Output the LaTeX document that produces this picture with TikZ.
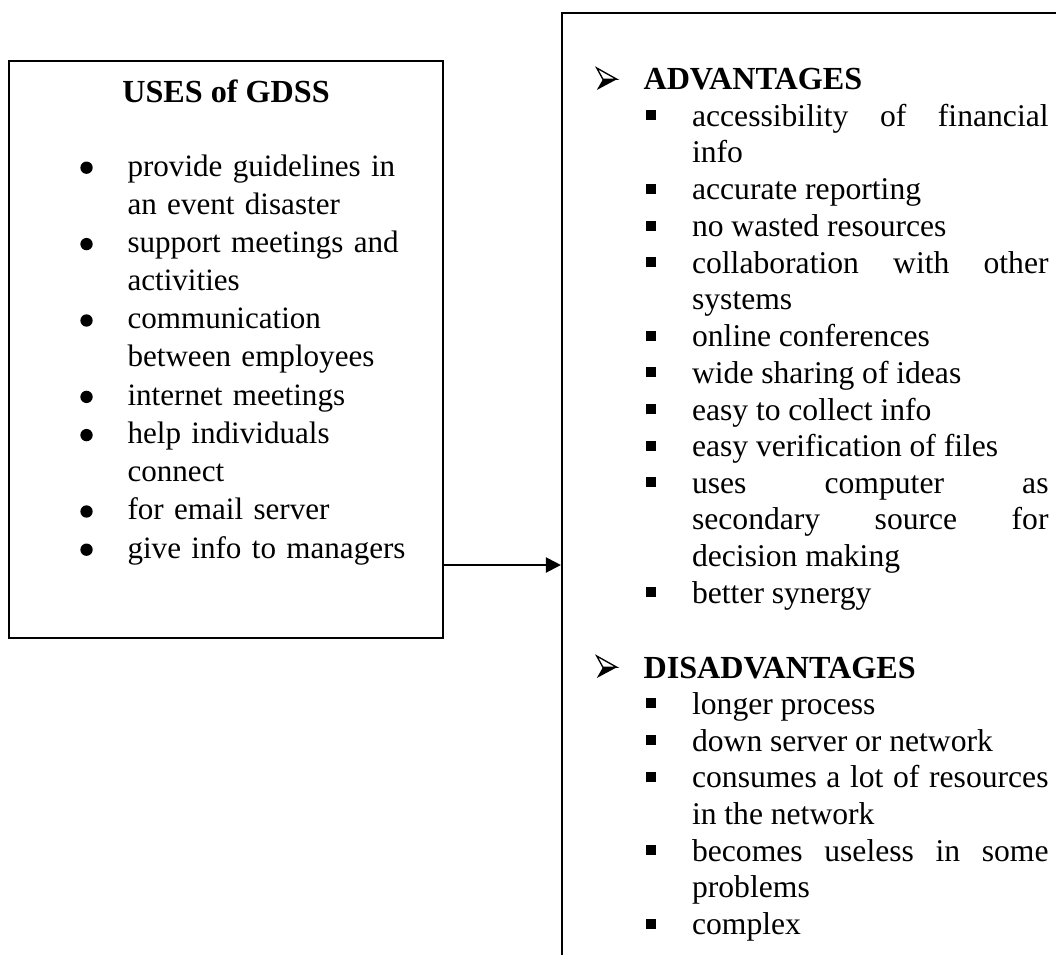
\documentclass[tikz,border=0pt]{standalone}
\usepackage{fontspec}
\setmainfont{Liberation Serif}
\usetikzlibrary{positioning}
\usetikzlibrary{fit}
\usetikzlibrary{arrows.meta}

\hyphenpenalty=10000
\exhyphenpenalty=10000
\tolerance=10000

% list markers, hung to the left of the item text
\newcommand{\dotmark}{\llap{\tikz[baseline=-3.1pt]\fill (0,0) circle (2.3pt);\hspace{13pt}}}
\newcommand{\sqmark}{\llap{\rule[2.2pt]{3.7pt}{3.7pt}\hspace{13.4pt}}}
\newcommand{\headmark}{\llap{\tikz[baseline=0pt,line width=0.5pt,line join=miter]{
		\draw (0,8.2pt) -- (7.5pt,4pt) -- (2.3pt,4pt) -- cycle;
		\fill (0,0) -- (7.5pt,4pt) -- (2.3pt,4pt) -- cycle;}\hspace{9.7pt}}}
\newcommand{\loosewords}{\spaceskip=2.9pt plus 30pt minus 1pt\relax}

\begin{document}
\begin{tikzpicture}
		[x=0.3731pt, y=-0.3731pt, line width=0.8pt,
		box/.style={draw, rectangle, inner sep=0pt},
		headtext/.style={inner sep=0pt, font=\fontsize{12}{14}\selectfont\bfseries},
		uselist/.style={anchor=base west, inner sep=0pt, text width=115pt, align=left,
			font=\fontsize{11.6}{14.25}\selectfont},
		prolist/.style={anchor=base west, inner sep=0pt, text width=133pt, align=justify,
			font=\fontsize{11.8}{13.7}\selectfont\loosewords},
		flow/.style={-{Triangle[length=5.6pt,width=5.6pt]}}]
	\useasboundingbox (0,0) rectangle (1056,954);
	\clip (0,0) rectangle (1056,954);

	% left box
	\node (uses) [box, fit={(9,61) (443,638)}] {};
	\node (usetitle) [headtext, anchor=base] at (226,102) {USES of GDSS};
	\node (u1) [uselist] at (127,176) {\dotmark provide guidelines in\\an event disaster};
	\node (u2) [uselist] at (127,252.4) {\dotmark support meetings and\\activities};
	\node (u3) [uselist] at (127,328.8) {\dotmark communication\\between employees};
	\node (u4) [uselist] at (127,405.2) {\dotmark internet meetings};
	\node (u5) [uselist] at (127,443.4) {\dotmark help individuals\\connect};
	\node (u6) [uselist] at (127,519.8) {\dotmark for email server};
	\node (u7) [uselist] at (127,558) {\dotmark give info to managers};

	% right box (runs past the page edge)
	\node (pros) [box, fit={(562,13) (1150,1050)}] {};
	\node (adv) [headtext, anchor=base west] at (643,90) {\headmark ADVANTAGES};
	\node (a1) [prolist] at (691,126) {\sqmark accessibility of financial\linebreak info};
	\node (a2) [prolist] at (691,199.5) {\sqmark accurate reporting};
	\node (a3) [prolist] at (691,236.5) {\sqmark no wasted resources};
	\node (a4) [prolist] at (691,273) {\sqmark collaboration with other\linebreak systems};
	\node (a5) [prolist] at (691,346.5) {\sqmark online conferences};
	\node (a6) [prolist] at (691,383) {\sqmark wide sharing of ideas};
	\node (a7) [prolist] at (691,420) {\sqmark easy to collect info};
	\node (a8) [prolist] at (691,456.5) {\sqmark easy verification of files};
	\node (a9) [prolist] at (691,493) {\sqmark uses computer as\linebreak secondary source for\linebreak decision making};
	\node (a10) [prolist] at (691,603) {\sqmark better synergy};

	\node (dis) [headtext, anchor=base west] at (643,678) {\headmark DISADVANTAGES};
	\node (d1) [prolist] at (691,714) {\sqmark longer process};
	\node (d2) [prolist] at (691,751) {\sqmark down server or network};
	\node (d3) [prolist] at (691,787.5) {\sqmark consumes a lot of resources\linebreak in the network};
	\node (d4) [prolist] at (691,861) {\sqmark becomes useless in some\linebreak problems};
	\node (d5) [prolist] at (691,934.5) {\sqmark complex};

	\coordinate (link) at (500,565);
	\draw [flow] (uses.east |- link) to (pros.west |- link);
\end{tikzpicture}
\end{document}
